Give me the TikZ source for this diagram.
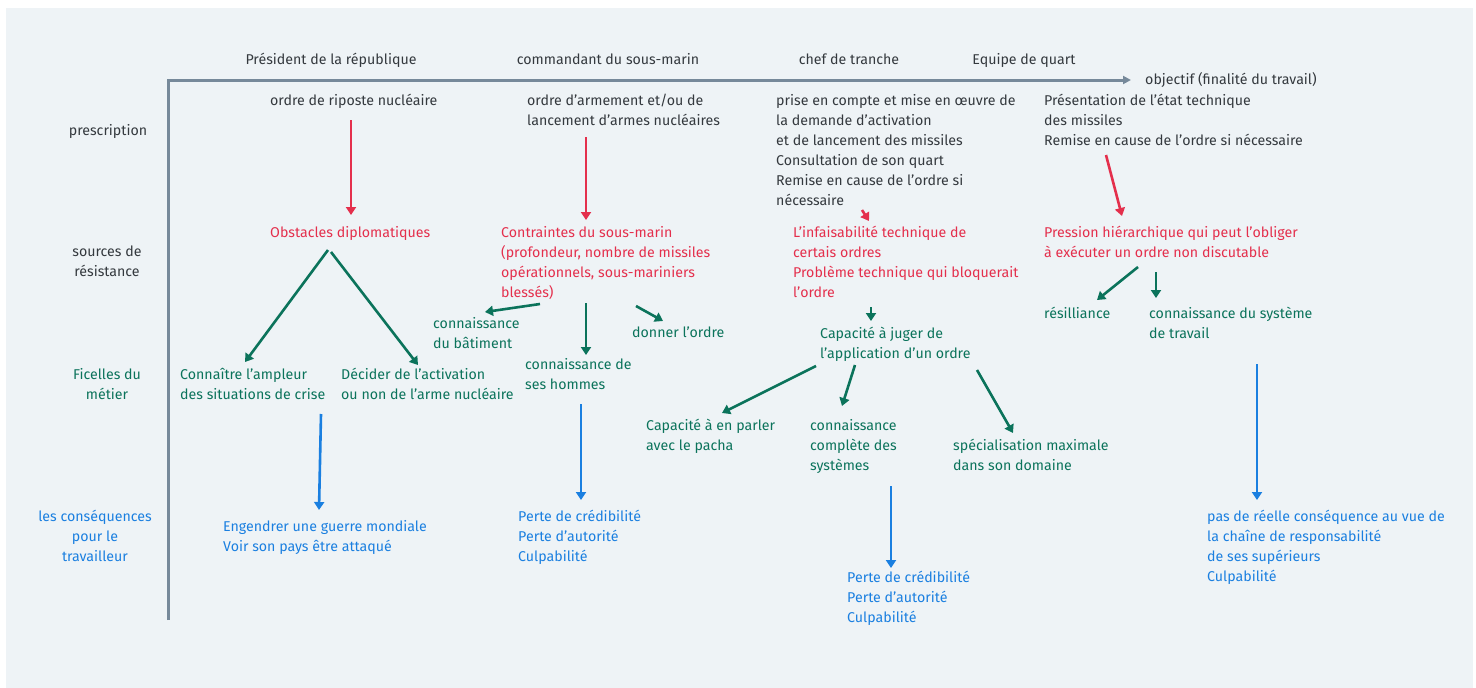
\documentclass[tikz,border=0pt]{standalone}
\usepackage{fontspec}
\setmainfont{Fira Sans}
\usepackage{tikz}
\usetikzlibrary{arrows.meta}

\definecolor{panelbg}{HTML}{EEF3F6}
\definecolor{axisgrey}{HTML}{76899A}
\definecolor{darktext}{HTML}{34393E}
\definecolor{resred}{HTML}{E42F4C}
\definecolor{ficgreen}{HTML}{0B735B}
\definecolor{consblue}{HTML}{1A7FE0}

\begin{document}
\begin{tikzpicture}[x=1pt,y=-1pt,
    every node/.style={inner sep=0pt,font=\fontsize{14.2}{20}\selectfont},
    txt/.style={anchor=north west,align=left},
    rowlabel/.style={anchor=north,align=center},
    head/.style={anchor=base,text=darktext},
    arr/.style={line width=2.6pt,-{Triangle[length=8pt,width=10pt]}}]
		  \useasboundingbox (0,0) rectangle (1476,688);
		  \fill[white] (0,0) rectangle (1476,688);
		  \fill[panelbg] (6,8) rectangle (1473,688);

		  % Axes
		  \coordinate (O) at (168,80);
		  \coordinate (axisend) at (1131,80);
		  \coordinate (axisbot) at (168,620);
		  \draw[axisgrey, line width=3pt, -{Triangle[length=8pt,width=8pt]}] (axisbot) -- (O) -- (axisend);
		  \node[anchor=base west, text=darktext] (goal) at (1145,84.5) {objectif (finalité du travail)};

		  % Column heads
		  \node[head] (pres) at (331,64.5) {Président de la république};
		  \node[head] (cmdt) at (608,64.5) {commandant du sous-marin};
		  \node[head] (chef) at (849,64.5) {chef de tranche};
		  \node[head] (quart) at (1024,64.5) {Equipe de quart};

		  % Row labels
		  \node[rowlabel, text=darktext] (rowpresc) at (108,124) {prescription};
		  \node[rowlabel, text=darktext] (rowres) at (107,246) {sources de\\résistance};
		  \node[rowlabel, text=ficgreen] (rowfic) at (107,368) {Ficelles du\\métier};
		  \node[rowlabel, text=consblue] (rowcons) at (95,510) {les conséquences\\pour le\\travailleur};

		  % Nodes: president
		  \node[txt, text=darktext] (riposte) at (270,94) {ordre de riposte nucléaire};
		  \node[txt, text=resred] (obstacles) at (270,226) {Obstacles diplomatiques};
		  \node[txt, text=ficgreen] (ampleur) at (180,368) {Connaître l’ampleur\\des situations de crise};
		  \node[txt, text=ficgreen] (decider) at (341,368) {Décider de l’activation\\ou non de l’arme nucléaire};
		  \node[txt, text=consblue] (guerre) at (223,520) {Engendrer une guerre mondiale\\Voir son pays être attaqué};

		  % Nodes: commandant
		  \node[txt, text=darktext] (armement) at (527,94) {ordre d’armement et/ou de\\lancement d’armes nucléaires};
		  \node[txt, text=resred] (contraintes) at (501,226) {Contraintes du sous-marin\\(profondeur, nombre de missiles\\opérationnels, sous-mariniers\\blessés)};
		  \node[txt, text=ficgreen] (batiment) at (433,317) {connaissance\\du bâtiment};
		  \node[txt, text=ficgreen] (donner) at (632,327) {donner l’ordre};
		  \node[txt, text=ficgreen] (hommes) at (525,358) {connaissance de\\ses hommes};
		  \node[txt, text=consblue] (perteA) at (518,510) {Perte de crédibilité\\Perte d’autorité\\Culpabilité};

		  % Nodes: chef de tranche
		  \node[txt, text=darktext] (prise) at (776,94) {prise en compte et mise en œuvre de\\la demande d’activation\\et de lancement des missiles\\Consultation de son quart\\Remise en cause de l’ordre si\\nécessaire};
		  \node[txt, text=resred] (infaisab) at (793,226) {L’infaisabilité technique de\\certais ordres\\Problème technique qui bloquerait\\l’ordre};
		  \node[txt, text=ficgreen] (juger) at (820,327) {Capacité à juger de\\l’application d’un ordre};
		  \node[txt, text=ficgreen] (parler) at (646,419) {Capacité à en parler\\avec le pacha};
		  \node[txt, text=ficgreen] (complete) at (810,419) {connaissance\\complète des\\systèmes};
		  \node[txt, text=ficgreen] (special) at (953,439) {spécialisation maximale\\dans son domaine};
		  \node[txt, text=consblue] (perteB) at (847,571) {Perte de crédibilité\\Perte d’autorité\\Culpabilité};

		  % Nodes: equipe de quart
		  \node[txt, text=darktext] (presentation) at (1044,94) {Présentation de l’état technique\\des missiles\\Remise en cause de l’ordre si nécessaire};
		  \node[txt, text=resred] (pression) at (1044,226) {Pression hiérarchique qui peut l’obliger\\à exécuter un ordre non discutable};
		  \node[txt, text=ficgreen] (resil) at (1044,307) {résilliance};
		  \node[txt, text=ficgreen] (systeme) at (1149,307) {connaissance du système\\de travail};
		  \node[txt, text=consblue] (reelle) at (1207,510) {pas de réelle conséquence au vue de\\la chaîne de responsabilité\\de ses supérieurs\\Culpabilité};

		  % Arrows
		  \draw[arr, resred] ([shift={(81,26)}]riposte.north west) -- ([shift={(81,-11)}]obstacles.north west);
		  \draw[arr, ficgreen] ([shift={(58,24)}]obstacles.north west) -- ([shift={(65,-6)}]ampleur.north west);
		  \draw[arr, ficgreen] ([shift={(61,26)}]obstacles.north west) -- ([shift={(77,-3)}]decider.north west);
		  \draw[arr, consblue] ([shift={(141,46)}]ampleur.north west) -- ([shift={(96,-10)}]guerre.north west);

		  \draw[arr, resred] ([shift={(59,43)}]armement.north west) -- ([shift={(85,-6)}]contraintes.north west);
		  \draw[arr, ficgreen] ([shift={(39,78)}]contraintes.north west) -- ([shift={(52,-5)}]batiment.north west); % to the left
		  \draw[arr, ficgreen] ([shift={(85,77)}]contraintes.north west) -- ([shift={(61,-3)}]hommes.north west);
		  \draw[arr, ficgreen] ([shift={(135,80)}]contraintes.north west) -- ([shift={(31,-6)}]donner.north west);
		  \draw[arr, consblue] ([shift={(56,46)}]hommes.north west) -- ([shift={(63,-10)}]perteA.north west);

		  \draw[arr, resred] ([shift={(86,116)}]prise.north west) -- ([shift={(76,-5)}]infaisab.north west); % short one
		  \draw[arr, ficgreen] ([shift={(78,81)}]infaisab.north west) -- ([shift={(51,-6)}]juger.north west);
		  \draw[arr, ficgreen] ([shift={(-4,39)}]juger.north west) -- ([shift={(76,-6)}]parler.north west);
		  \draw[arr, ficgreen] ([shift={(35,38)}]juger.north west) -- ([shift={(32,-13)}]complete.north west);
		  \draw[arr, ficgreen] ([shift={(157,43)}]juger.north west) -- ([shift={(60,-6)}]special.north west);
		  \draw[arr, consblue] ([shift={(81,67)}]complete.north west) -- ([shift={(44,-3)}]perteB.north west);

		  \draw[arr, resred] ([shift={(62,61)}]presentation.north west) -- ([shift={(78,-10)}]pression.north west);
		  \draw[arr, ficgreen] ([shift={(94,41)}]pression.north west) -- ([shift={(53,-7)}]resil.north west);
		  \draw[arr, ficgreen] ([shift={(112,46)}]pression.north west) -- ([shift={(7,-9)}]systeme.north west);
		  \draw[arr, consblue] ([shift={(108,57)}]systeme.north west) -- ([shift={(50,-10)}]reelle.north west);
		\end{tikzpicture}
\end{document}
